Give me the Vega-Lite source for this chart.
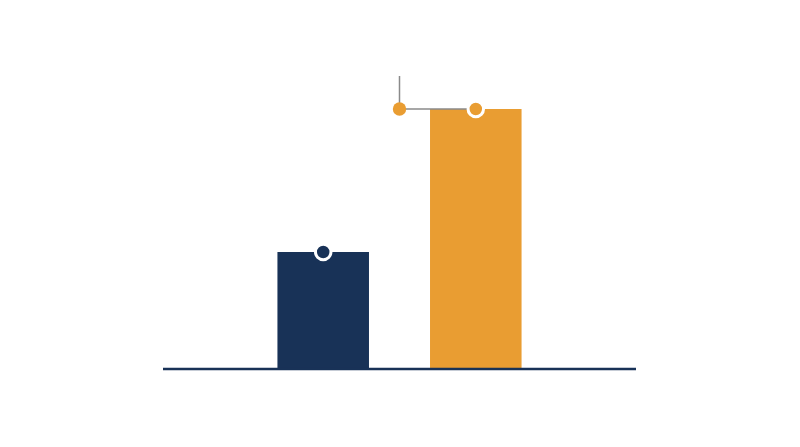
{
  "$schema": "https://vega.github.io/schema/vega-lite/v6.json",
  "autosize": "none",
  "width": 473,
  "height": 312,
  "padding": {"left": 163, "top": 57, "right": 164, "bottom": 78},
  "background": "white",
  "config": {"view": {"stroke": null}},
  "resolve": {"scale": {"color": "shared"}},
  "layer": [
    {
      "data": {"values": [
        {"group": "A", "x0": -1.6, "x1": -0.4, "value": 45},
        {"group": "B", "x0": 0.4, "x1": 1.6, "value": 100}
      ]},
      "mark": {"type": "rect"},
      "encoding": {
        "x": {"field": "x0", "type": "quantitative", "scale": {"domain": [-3.1, 3.1], "nice": false, "zero": false}, "axis": null},
        "x2": {"field": "x1"},
        "y": {"field": "value", "type": "quantitative", "scale": {"domain": [0, 120], "nice": false}, "axis": null},
        "y2": {"datum": 0},
        "color": {"field": "group", "type": "nominal", "scale": {"domain": ["A", "B"], "range": ["#183257", "#e99d32"]}, "legend": null}
      }
    },
    {
      "data": {"values": [{"x0": -3.1, "x1": 3.1, "value": 0}]},
      "mark": {"type": "rule", "color": "#183257", "strokeWidth": 2.5},
      "encoding": {
        "x": {"field": "x0", "type": "quantitative"},
        "x2": {"field": "x1"},
        "y": {"field": "value", "type": "quantitative"}
      }
    },
    {
      "data": {"values": [
        {"x0": 0, "x1": 1, "y0": 100, "y1": 100},
        {"x0": 0, "x1": 0, "y0": 100, "y1": 112.7}
      ]},
      "mark": {"type": "rule", "color": "#8a8a8a", "strokeWidth": 1.5},
      "encoding": {
        "x": {"field": "x0", "type": "quantitative"},
        "x2": {"field": "x1"},
        "y": {"field": "y0", "type": "quantitative"},
        "y2": {"field": "y1"}
      }
    },
    {
      "data": {"values": [{"x": 0, "value": 100}]},
      "mark": {"type": "circle", "color": "#e99d32", "opacity": 1, "size": 180},
      "encoding": {
        "x": {"field": "x", "type": "quantitative"},
        "y": {"field": "value", "type": "quantitative"}
      }
    },
    {
      "data": {"values": [
        {"group": "A", "x": -1, "value": 45},
        {"group": "B", "x": 1, "value": 100}
      ]},
      "mark": {"type": "circle", "opacity": 1, "size": 240, "stroke": "white", "strokeWidth": 3},
      "encoding": {
        "x": {"field": "x", "type": "quantitative"},
        "y": {"field": "value", "type": "quantitative"},
        "color": {"field": "group", "type": "nominal", "legend": null}
      }
    }
  ]
}
